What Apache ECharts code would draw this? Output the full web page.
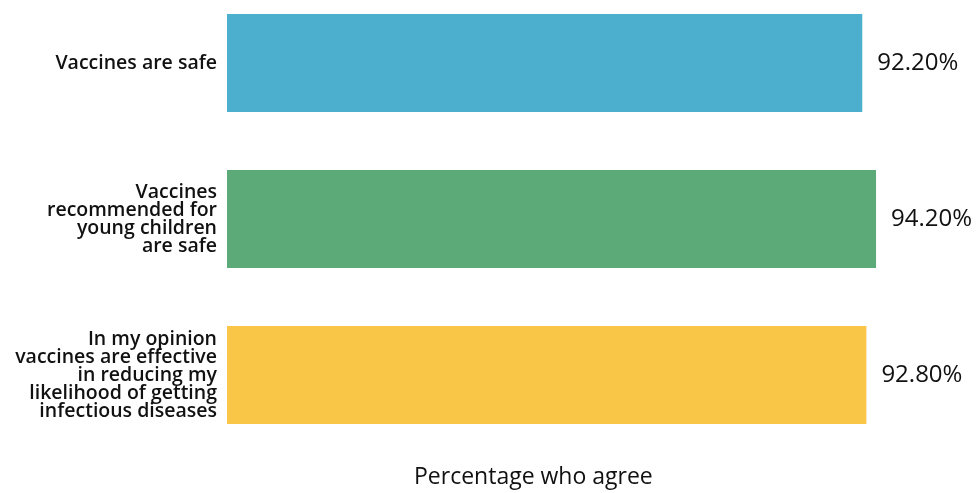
<!DOCTYPE html>
<html>
<head>
<meta charset="utf-8">
<script src="https://cdn.jsdelivr.net/npm/echarts@6/dist/echarts.min.js"></script>
<style>
    html, body { margin: 0; padding: 0; background: #fff; }
    #chart { width: 980px; height: 493px; }
</style>
</head>
<body>
<div id="chart"></div>
<script>
// statements, top to bottom
const categories = [
    "Vaccines are safe",
    "Vaccines\nrecommended for\nyoung children\nare safe",
    "In my opinion\nvaccines are effective\nin reducing my\nlikelihood of getting\ninfectious diseases",
];
const values = [92.2, 94.2, 92.8];
const barColors = ["#4BAFCD", "#5BAA78", "#FAC648"];
const axisTitle = "Percentage who agree";

const chart = echarts.init(document.getElementById("chart"));

chart.setOption({
    animation: false,
    textStyle: { fontFamily: "'Open Sans', sans-serif" },
    grid: {
        left: 227,
        width: 689,
        top: 63,
        height: 312,
    },
    xAxis: {
        type: "value",
        min: 0,
        max: 100,
        show: false,
    },
    yAxis: {
        type: "category",
        inverse: true,
        boundaryGap: false,
        data: categories,
        axisLine: { show: false },
        axisTick: { show: false },
        splitLine: { show: false },
        axisLabel: {
            margin: 10,
            color: "#111",
            fontSize: 19.5,
            fontWeight: 600,
            lineHeight: 18,
            align: "right",
        },
    },
    series: [
        {
            type: "bar",
            barWidth: 98,
            data: values.map((v, i) => ({
                value: v,
                itemStyle: { color: barColors[i] },
            })),
            label: {
                show: true,
                position: "right",
                distance: 15,
                color: "#111",
                fontSize: 24,
                formatter: p => p.value.toFixed(2) + "%",
            },
        },
    ],
    graphic: [
        {
            type: "text",
            left: 414,
            top: 466,
            style: {
                text: axisTitle,
                fill: "#111",
                font: "23px 'Open Sans', sans-serif",
            },
        },
    ],
});
</script>
</body>
</html>
